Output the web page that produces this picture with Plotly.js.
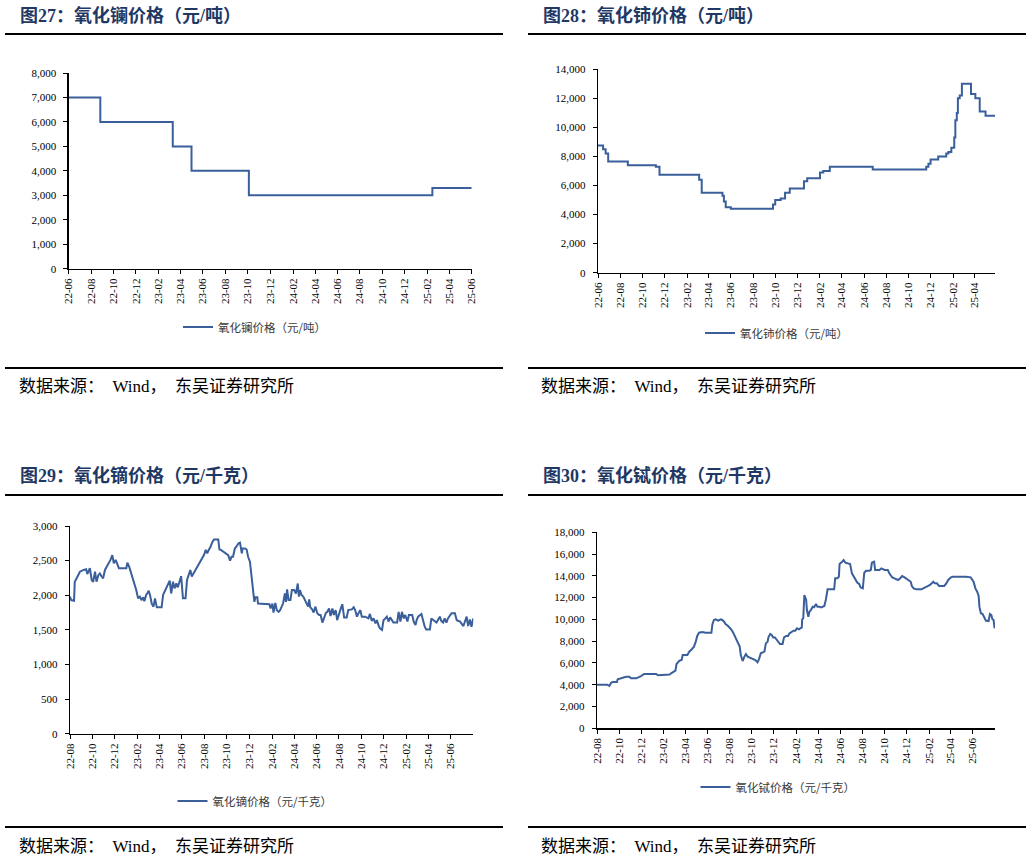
<!DOCTYPE html>
<html>
<head>
<meta charset="utf-8">
<script src="https://cdn.plot.ly/plotly-3.0.1.min.js"></script>
<style>html,body{margin:0;padding:0;background:#fff;}#chart{width:1032px;height:860px;}</style>
</head>
<body>
<div id="chart"></div>
<script>
// ---------- DATA ----------
// Chart 27: 氧化镧价格（元/吨）
const laDates = ['2022-06-01','2022-08-26','2023-03-11','2023-05-01','2023-10-04','2025-02-14','2025-06-01'];
const laValues = [7000,6000,5000,4000,3000,3300,3300];
const laTicks = ['22-06','22-08','22-10','22-12','23-02','23-04','23-06','23-08','23-10','23-12','24-02','24-04','24-06','24-08','24-10','24-12','25-02','25-04','25-06'];

// Chart 28: 氧化铈价格（元/吨）
const ceDates = ['2022-06-01','2022-06-15','2022-06-22','2022-06-29','2022-08-22','2022-11-07','2022-11-17','2023-03-06','2023-03-13','2023-05-09','2023-05-13','2023-05-18','2023-06-01','2023-09-25','2023-10-01','2023-10-16','2023-10-28','2023-11-10','2023-12-19','2023-12-28','2024-02-01','2024-02-10','2024-02-28','2024-06-25','2024-11-19','2024-11-25','2024-12-01','2024-12-22','2025-01-13','2025-01-19','2025-01-27','2025-02-04','2025-02-07','2025-02-11','2025-02-14','2025-02-19','2025-02-25','2025-03-22','2025-04-03','2025-04-15','2025-05-01','2025-05-27'];
const ceValues = [8750,8500,8200,7650,7400,7300,6750,6400,5500,5300,4900,4500,4400,4700,5000,5100,5500,5800,6300,6500,6900,7000,7300,7100,7300,7500,7800,8000,8200,8300,8600,9300,10500,11000,12000,12200,13000,12300,12000,11100,10800,10800];
const ceTicks = ['22-06','22-08','22-10','22-12','23-02','23-04','23-06','23-08','23-10','23-12','24-02','24-04','24-06','24-08','24-10','24-12','25-02','25-04'];

// Chart 29: 氧化镝价格（元/千克）
const dyDates = ['2022-08-01','2022-08-04','2022-08-12','2022-08-14','2022-08-19','2022-08-23','2022-08-28','2022-09-07','2022-09-14','2022-09-17','2022-09-21','2022-09-24','2022-09-29','2022-10-03','2022-10-08','2022-10-12','2022-10-17','2022-10-21','2022-10-26','2022-10-30','2022-11-04','2022-11-09','2022-11-13','2022-11-19','2022-11-24','2022-11-28','2022-12-03','2022-12-08','2022-12-12','2023-01-01','2023-01-04','2023-01-09','2023-01-13','2023-01-18','2023-01-22','2023-01-28','2023-02-02','2023-02-07','2023-02-11','2023-02-16','2023-02-19','2023-02-24','2023-02-28','2023-03-03','2023-03-07','2023-03-11','2023-03-16','2023-03-20','2023-03-25','2023-04-07','2023-04-11','2023-04-15','2023-04-20','2023-04-24','2023-04-29','2023-05-03','2023-05-08','2023-05-12','2023-05-17','2023-05-21','2023-05-26','2023-05-30','2023-06-04','2023-06-11','2023-06-15','2023-06-19','2023-06-24','2023-06-28','2023-07-03','2023-07-07','2023-07-12','2023-07-16','2023-07-21','2023-07-26','2023-07-31','2023-08-05','2023-08-09','2023-08-13','2023-08-18','2023-08-22','2023-08-27','2023-09-08','2023-09-11','2023-09-15','2023-09-22','2023-09-29','2023-10-05','2023-10-10','2023-10-14','2023-10-18','2023-10-23','2023-10-27','2023-11-02','2023-11-06','2023-11-11','2023-11-13','2023-11-20','2023-11-24','2023-11-28','2023-12-03','2023-12-08','2023-12-12','2023-12-15','2023-12-18','2023-12-23','2023-12-25','2024-01-25','2024-01-28','2024-02-02','2024-02-05','2024-02-10','2024-02-14','2024-02-19','2024-02-23','2024-02-28','2024-03-02','2024-03-07','2024-03-10','2024-03-13','2024-03-17','2024-03-22','2024-03-26','2024-04-01','2024-04-06','2024-04-11','2024-04-14','2024-04-17','2024-04-21','2024-04-26','2024-04-30','2024-05-05','2024-05-09','2024-05-12','2024-05-15','2024-05-20','2024-05-24','2024-05-29','2024-06-03','2024-06-08','2024-06-12','2024-06-17','2024-06-21','2024-06-26','2024-06-30','2024-07-05','2024-07-09','2024-07-14','2024-07-18','2024-07-23','2024-07-27','2024-08-02','2024-08-06','2024-08-10','2024-08-15','2024-08-22','2024-08-26','2024-09-05','2024-09-10','2024-09-14','2024-09-19','2024-09-23','2024-09-28','2024-10-02','2024-10-11','2024-10-20','2024-10-24','2024-10-29','2024-11-03','2024-11-08','2024-11-12','2024-11-17','2024-11-21','2024-11-26','2024-11-30','2024-12-05','2024-12-09','2024-12-14','2024-12-18','2024-12-27','2025-01-06','2025-01-10','2025-01-15','2025-01-19','2025-01-24','2025-01-28','2025-02-03','2025-02-07','2025-02-16','2025-02-20','2025-02-25','2025-02-28','2025-03-04','2025-03-13','2025-03-17','2025-03-22','2025-03-26','2025-04-05','2025-04-09','2025-04-14','2025-04-23','2025-05-02','2025-05-06','2025-05-11','2025-05-15','2025-05-20','2025-05-24','2025-06-03','2025-06-12','2025-06-17','2025-06-26','2025-07-05','2025-07-09','2025-07-14','2025-07-18','2025-07-23','2025-07-27','2025-07-30','2025-08-01'];
const dyValues = [1980,1930,1920,2195,2245,2290,2340,2365,2375,2305,2355,2390,2220,2195,2340,2195,2290,2315,2270,2245,2365,2410,2460,2510,2580,2460,2510,2435,2390,2390,2470,2410,2340,2220,2150,2075,1955,1980,1930,1970,1915,2005,2035,2065,1990,1880,1835,1955,1825,1825,2005,2050,2100,2170,2210,2025,2195,2100,2170,2115,2220,2275,1955,1955,2220,2290,2365,2270,2315,2365,2410,2435,2485,2520,2580,2655,2605,2655,2700,2760,2805,2805,2660,2655,2630,2605,2580,2500,2555,2555,2675,2700,2750,2760,2605,2675,2675,2660,2555,2485,2270,2025,1905,1970,1970,1880,1870,1810,1880,1750,1890,1785,1760,1785,1845,1880,2025,1905,2085,1930,1930,2075,2075,2025,2170,1980,2075,2005,1980,1930,1860,1835,1940,1825,1795,1750,1835,1740,1715,1715,1605,1665,1740,1760,1810,1700,1810,1715,1785,1640,1760,1810,1870,1680,1680,1785,1795,1825,1785,1690,1740,1785,1690,1690,1665,1730,1630,1665,1595,1640,1555,1520,1500,1640,1665,1690,1620,1680,1605,1605,1760,1620,1760,1665,1715,1620,1715,1715,1620,1570,1640,1690,1730,1640,1545,1505,1505,1665,1640,1605,1690,1630,1605,1665,1605,1665,1740,1740,1640,1620,1555,1620,1690,1555,1650,1545,1665,1665];
const dyTicks = ['22-08','22-10','22-12','23-02','23-04','23-06','23-08','23-10','23-12','24-02','24-04','24-06','24-08','24-10','24-12','25-02','25-04','25-06'];

// Chart 30: 氧化铽价格（元/千克）
const tbDates = ['2022-08-01','2022-08-29','2022-09-04','2022-09-09','2022-09-13','2022-09-25','2022-09-27','2022-10-06','2022-10-15','2022-10-20','2022-10-29','2022-11-03','2022-11-17','2022-11-24','2022-11-30','2022-12-09','2023-01-11','2023-01-16','2023-02-03','2023-02-17','2023-02-21','2023-02-27','2023-03-05','2023-03-08','2023-03-12','2023-03-16','2023-03-22','2023-03-25','2023-04-07','2023-04-12','2023-04-19','2023-04-25','2023-04-30','2023-05-04','2023-05-09','2023-05-18','2023-05-27','2023-06-12','2023-06-15','2023-06-19','2023-06-24','2023-07-01','2023-07-08','2023-07-12','2023-07-17','2023-07-21','2023-07-28','2023-08-02','2023-08-07','2023-08-11','2023-08-16','2023-08-20','2023-08-25','2023-08-29','2023-09-01','2023-09-06','2023-09-11','2023-09-15','2023-09-20','2023-09-24','2023-10-04','2023-10-11','2023-10-17','2023-10-21','2023-10-26','2023-10-30','2023-11-05','2023-11-09','2023-11-14','2023-11-16','2023-11-21','2023-11-25','2023-11-29','2023-12-04','2023-12-09','2023-12-13','2023-12-18','2023-12-25','2023-12-29','2024-01-04','2024-01-09','2024-01-13','2024-01-18','2024-01-24','2024-01-29','2024-02-03','2024-02-08','2024-02-12','2024-02-16','2024-02-17','2024-02-20','2024-02-23','2024-02-25','2024-02-28','2024-03-01','2024-03-05','2024-03-08','2024-03-12','2024-03-17','2024-03-21','2024-03-26','2024-03-30','2024-04-04','2024-04-09','2024-04-18','2024-04-22','2024-04-27','2024-05-15','2024-05-18','2024-05-24','2024-05-28','2024-05-30','2024-06-06','2024-06-10','2024-06-15','2024-06-21','2024-06-28','2024-07-03','2024-07-09','2024-07-14','2024-07-18','2024-07-23','2024-07-27','2024-08-02','2024-08-06','2024-08-11','2024-08-20','2024-08-24','2024-08-27','2024-09-02','2024-09-05','2024-09-17','2024-09-22','2024-10-01','2024-10-10','2024-10-14','2024-10-22','2024-10-28','2024-11-07','2024-11-13','2024-11-18','2024-11-25','2024-12-04','2024-12-12','2024-12-15','2024-12-20','2024-12-27','2025-01-11','2025-01-15','2025-01-22','2025-01-29','2025-02-03','2025-02-07','2025-02-12','2025-02-16','2025-02-22','2025-02-28','2025-03-05','2025-03-14','2025-03-20','2025-03-25','2025-04-02','2025-04-06','2025-05-13','2025-05-26','2025-06-03','2025-06-08','2025-06-13','2025-06-17','2025-06-19','2025-06-23','2025-06-28','2025-07-03','2025-07-07','2025-07-12','2025-07-14','2025-07-18','2025-07-22','2025-07-25','2025-07-28','2025-07-31'];
const tbValues = [4000,4000,3890,4190,4250,4250,4500,4590,4650,4740,4740,4590,4590,4680,4800,4990,4990,4870,4870,4930,5050,5200,5290,5900,6060,6210,6270,6730,6730,7040,7250,7500,7960,8480,8780,8840,8780,8780,9580,9950,10000,9880,10000,9950,9790,9580,9390,9240,9030,8780,8420,8170,7740,7500,6730,6180,6580,6820,6580,6520,6400,6270,6060,6330,6890,6950,7040,7800,7960,8350,8660,8570,8350,8350,8110,7960,7740,7740,8350,8480,8480,8720,8870,8970,8970,9180,9090,9210,9270,10000,10100,12240,12090,11780,10860,10250,10710,10860,11170,11110,11410,11170,11170,11110,11230,11780,12760,12760,13770,13770,13920,15090,15300,15450,15210,15150,15090,14230,13920,13620,13370,13250,12940,12850,14290,14470,14470,14540,15210,15300,14540,14540,14690,14540,14540,14230,13860,13770,13620,13770,13980,13860,13680,13460,13070,12850,12760,12760,12850,13000,13070,13160,13310,13460,13310,13310,13070,13070,13070,13310,13620,13860,13920,13920,13860,13460,12850,12550,12150,11170,10560,10500,10100,9880,9880,9790,10500,10400,10000,9950,9180];
const tbTicks = dyTicks;

const titles = ['图27：氧化镧价格（元/吨）','图28：氧化铈价格（元/吨）','图29：氧化镝价格（元/千克）','图30：氧化铽价格（元/千克）'];
const seriesNames = ['氧化镧价格（元/吨）','氧化铈价格（元/吨）','氧化镝价格（元/千克）','氧化铽价格（元/千克）'];
const sourceText = '数据来源：\u2002Wind，\u3000东吴证券研究所';

// ---------- LAYOUT HELPERS ----------
const W = 1032, H = 860;
const px = x => x / W;
const py = y => 1 - y / H;
const LINE = '#3a5f9b';
const tickDates = labels => labels.map(l => '20' + l + '-01');
const SERIF = "'Liberation Serif', 'Times New Roman', 'Noto Sans CJK SC', serif";

const axBase = {
  showline: true, linecolor: '#000', linewidth: 1.3,
  ticks: 'outside', ticklen: 4, tickwidth: 1, tickcolor: '#000',
  showgrid: false, zeroline: false, fixedrange: true,
  tickfont: {family: SERIF, size: 11, color: '#000'}
};
function xAx(domain, range, labels, anchor) {
  return Object.assign({}, axBase, {
    type: 'date', domain: domain, range: range, anchor: anchor,
    tickmode: 'array', tickvals: tickDates(labels), ticktext: labels, tickangle: -90
  });
}
function yAx(domain, max, dtick, anchor) {
  return Object.assign({}, axBase, {
    domain: domain, range: [0, max], dtick: dtick, tick0: 0, anchor: anchor,
    tickformat: ',d', ticklabelstandoff: 5
  });
}

const traces = [
  {x: laDates, y: laValues, type: 'scatter', mode: 'lines', line: {color: LINE, width: 2, shape: 'hv'}, name: seriesNames[0], xaxis: 'x', yaxis: 'y', legend: 'legend'},
  {x: ceDates, y: ceValues, type: 'scatter', mode: 'lines', line: {color: LINE, width: 2, shape: 'hv'}, name: seriesNames[1], xaxis: 'x2', yaxis: 'y2', legend: 'legend2'},
  {x: dyDates, y: dyValues, type: 'scatter', mode: 'lines', line: {color: LINE, width: 2}, name: seriesNames[2], xaxis: 'x3', yaxis: 'y3', legend: 'legend3'},
  {x: tbDates, y: tbValues, type: 'scatter', mode: 'lines', line: {color: LINE, width: 2}, name: seriesNames[3], xaxis: 'x4', yaxis: 'y4', legend: 'legend4'}
];

const legendBase = {
  xanchor: 'center', yanchor: 'middle', bgcolor: 'rgba(0,0,0,0)', borderwidth: 0,
  font: {family: "'Noto Sans CJK SC', sans-serif", size: 11.5, color: '#3a3a3a'}
};
const mkLegend = (cx, cy) => Object.assign({}, legendBase, {x: px(cx), y: py(cy)});

const titleFont = {family: SERIF, size: 18, color: '#1f3864'};
const srcFont = {family: SERIF, size: 17, color: '#000'};
const titlePos = [[18, 15], [541, 15], [18, 475], [541, 475]];
const srcPos = [[17, 387], [539, 387], [17, 846], [539, 846]];

const annotations = [];
titles.forEach((t, i) => annotations.push({text: '<b>' + t + '</b>', x: px(titlePos[i][0]), y: py(titlePos[i][1]), xref: 'paper', yref: 'paper', xanchor: 'left', yanchor: 'middle', showarrow: false, font: titleFont}));
srcPos.forEach(p => annotations.push({text: sourceText, x: px(p[0]), y: py(p[1]), xref: 'paper', yref: 'paper', xanchor: 'left', yanchor: 'middle', showarrow: false, font: srcFont}));

const sepLines = [[5, 503, 34], [528, 1026, 34], [5, 503, 368], [528, 1026, 368], [5, 503, 495], [528, 1026, 495], [5, 503, 827], [528, 1026, 827]];
const shapes = sepLines.map(s => ({type: 'line', xref: 'paper', yref: 'paper', x0: px(s[0]), x1: px(s[1]), y0: py(s[2]), y1: py(s[2]), line: {color: '#000', width: 2}}));

const layout = {
  width: W, height: H, margin: {l: 0, r: 0, t: 0, b: 0},
  paper_bgcolor: '#fff', plot_bgcolor: '#fff', showlegend: true,
  xaxis: xAx([px(68.7), px(471.7)], ['2022-06-01', '2025-06-01'], laTicks, 'y'),
  yaxis: yAx([py(268.7), py(73)], 8000, 1000, 'x'),
  xaxis2: xAx([px(598), px(995)], ['2022-06-01', '2025-05-27'], ceTicks, 'y2'),
  yaxis2: yAx([py(272.7), py(69.3)], 14000, 2000, 'x2'),
  xaxis3: xAx([px(70), px(473.3)], ['2022-08-01', '2025-08-01'], dyTicks, 'y3'),
  yaxis3: yAx([py(733.7), py(526)], 3000, 500, 'x3'),
  xaxis4: xAx([px(597), px(995)], ['2022-08-01', '2025-08-01'], tbTicks, 'y4'),
  yaxis4: yAx([py(728.3), py(532.3)], 18000, 2000, 'x4'),
  legend: mkLegend(255, 327),
  legend2: mkLegend(777, 333),
  legend3: mkLegend(255, 801),
  legend4: mkLegend(778, 787),
  annotations: annotations,
  shapes: shapes
};

Plotly.newPlot('chart', traces, layout, {staticPlot: true, displayModeBar: false});
</script>
</body>
</html>
